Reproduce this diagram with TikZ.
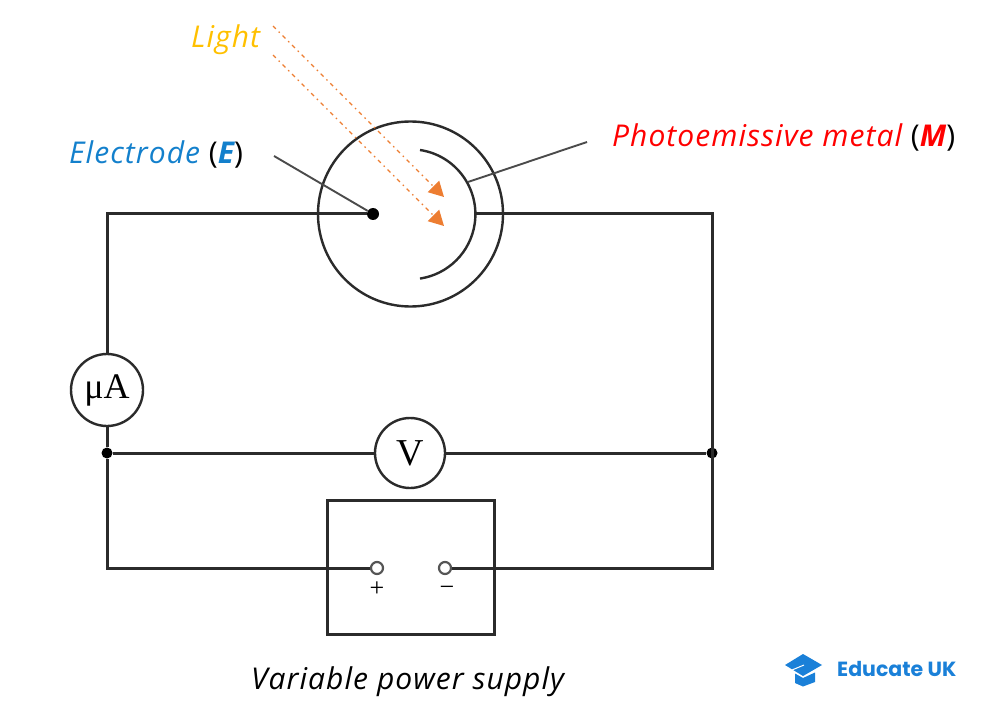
\documentclass[tikz,border=0pt]{standalone}
\usepackage{fontspec}
\setmainfont{Liberation Serif}
\newfontfamily\hand[LetterSpace=3.5]{Open Sans}
\newfontfamily\logofont{Poppins}
\usetikzlibrary{arrows.meta}
\definecolor{wirec}{HTML}{2B2B2B}
\definecolor{rayc}{HTML}{ED7D31}
\definecolor{lightc}{HTML}{FFC000}
\definecolor{elec}{HTML}{1380CC}
\definecolor{logoc}{HTML}{1A80D8}
\newcommand{\lp}{{\upshape(}}
\newcommand{\rp}{{\upshape)}}
\tikzset{
  wire/.style={draw=wirec,line width=2.4pt},
  straight/.style={draw=wirec,line width=3pt,line join=miter},
  leader/.style={draw=wirec!85,line width=1.9pt},
  ray/.style={draw=rayc,line width=1.3pt,dash pattern=on 4pt off 4pt on 1.5pt off 4pt,-{Triangle[length=15pt,width=16pt,color=rayc,fill=rayc]}},
  meter/.style={circle,wire,fill=white,inner sep=0pt},
  jdot/.style={circle,fill=black,inner sep=0pt,minimum size=12pt},
  term/.style={circle,draw=wirec!80,line width=2.2pt,fill=white,inner sep=0pt,minimum size=12pt},
  hlabel/.style={font=\hand\itshape\fontsize{30}{34}\selectfont,inner sep=0pt,anchor=base west},
}
\begin{document}
\begin{tikzpicture}[x=1pt,y=-1pt]
\useasboundingbox (0,0) rectangle (992,727);
% corners and junctions
\coordinate (tl) at (107,214);
\coordinate (tr) at (712,214);
\coordinate (bl) at (107,568);
\coordinate (br) at (712,568);
\coordinate (tube) at (410.5,214);
\coordinate (plateR) at (476,214);
\coordinate (plateT) at (468,182);
% tube
\draw[wire] (tube) circle[radius=92.5];
\draw[wire] (420,150) arc[start angle=-81.5,end angle=81.5,radius=65];
% supply box
\node[straight,minimum width=167pt,minimum height=134pt,inner sep=0pt] (box) at (410.5,567) {};
% meters
\node[meter,minimum size=72pt,font=\fontsize{36}{38}\selectfont] (ua) at (107,390) {μA};
\node[meter,minimum size=70pt,font=\fontsize{38}{40}\selectfont] (v) at (410,453) {V};
% junctions
\node[jdot,minimum size=11pt] (jl) at (107,453) {};
\node[jdot,minimum size=11pt] (jr) at (712,453) {};
\node[jdot] (e) at (373,214) {};
% terminals
\node[term] (tp) at (377,568) {};
\node[term] (tm) at (445,568) {};
\node[font=\fontsize{26}{28}\selectfont,inner sep=0pt,text=black] (plus) at (377,589) {+};
\node[font=\fontsize{26}{28}\selectfont,inner sep=0pt,text=black] (minus) at (447,591) {−};
% wires
\draw[straight] (e) -- (tl) -- (ua);
\draw[straight] (plateR) -- (tr) -- (br) -- (tm);
\draw[straight] (ua) -- (jl) -- (bl) -- (tp);
\draw[straight] (jl) -- (v) -- (jr);
% leaders
\coordinate (eL) at (274,156);
\coordinate (mL) at (587,142);
\draw[leader] (eL) -- (e);
\draw[leader] (mL) -- (plateT);
% rays
\coordinate (r1s) at (273,26);
\coordinate (r1e) at (444,197);
\coordinate (r2s) at (273,55);
\coordinate (r2e) at (444,226);
\draw[ray] (r1s) -- (r1e);
\draw[ray] (r2s) -- (r2e);
% labels
\node[hlabel,text=lightc] (lLight) at (191,48) {Light};
\node[hlabel] (lE) at (69,164) {\textcolor{elec}{Electrode} \lp\textcolor{elec}{\bfseries E}\rp};
\node[hlabel] (lM) at (612,147) {\textcolor{red}{Photoemissive metal} \lp\textcolor{red}{\bfseries M}\rp};
\node[hlabel,text=black] (lS) at (251,689) {Variable power supply};
% logo
\fill[logoc] (803,654) -- (822,665) -- (803,676) -- (785,665) -- cycle;
\fill[logoc] (795,673.5) -- (803,678) -- (815,672.5) -- (815,682) -- (803,686.5) -- (795,683) -- cycle;
\draw[white,line width=1pt] (804,665) -- (792,670) -- (792,682);
\node[font=\logofont\bfseries\fontsize{20.5}{24}\selectfont,text=logoc,inner sep=0pt,anchor=base west] (logo) at (837,676) {Educate UK};
\end{tikzpicture}
\end{document}
